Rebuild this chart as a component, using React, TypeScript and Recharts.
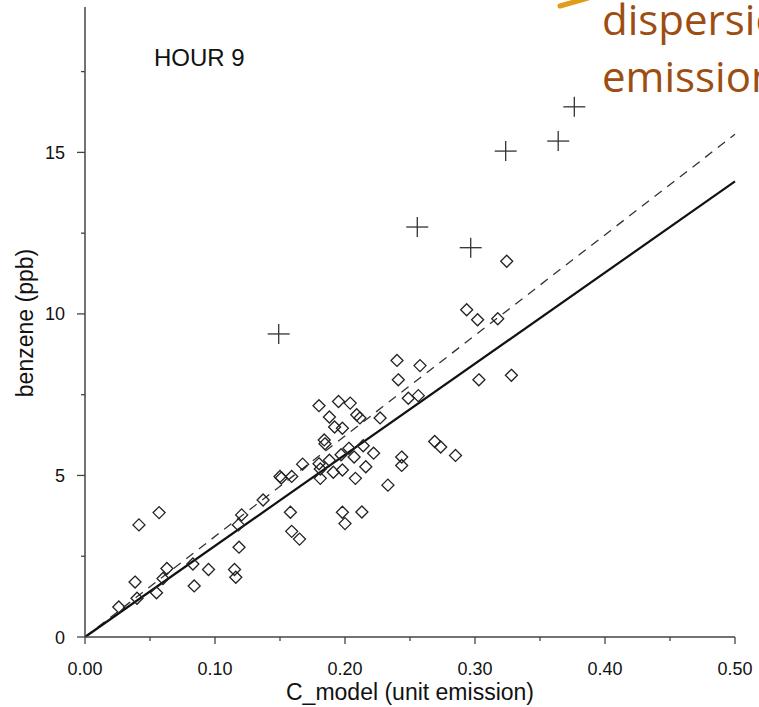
import { ReferenceLine, Scatter, ScatterChart, XAxis, YAxis } from "recharts";

// diamonds: modelled unit-emission concentration vs measured benzene
const modelConc = [
  0.026, 0.0415, 0.057, 0.0385, 0.04, 0.055, 0.06, 0.063, 0.083, 0.084, 0.095,
  0.115, 0.116, 0.1185, 0.118, 0.1205, 0.137, 0.15, 0.151, 0.159, 0.158, 0.159,
  0.165, 0.1674, 0.18, 0.181, 0.181, 0.191, 0.198, 0.208, 0.216, 0.18, 0.195,
  0.204, 0.209, 0.2115, 0.188, 0.192, 0.198, 0.227, 0.184, 0.1846, 0.203, 0.214,
  0.207, 0.222, 0.188, 0.197, 0.198, 0.2, 0.213, 0.233, 0.2436, 0.2436, 0.269,
  0.2736, 0.285, 0.24, 0.2577, 0.241, 0.303, 0.328, 0.2487, 0.2564, 0.2936,
  0.302, 0.3175, 0.3244,
];
const benzene = [
  0.93, 3.47, 3.85, 1.7, 1.2, 1.37, 1.81, 2.12, 2.26, 1.58, 2.09, 2.09, 1.85,
  2.78, 3.47, 3.78, 4.24, 4.97, 4.92, 4.97, 3.86, 3.27, 3.03, 5.35, 5.36, 5.2,
  4.91, 5.1, 5.17, 4.91, 5.27, 7.16, 7.29, 7.24, 6.88, 6.78, 6.81, 6.5, 6.46,
  6.78, 6.1, 5.98, 5.84, 5.92, 5.57, 5.69, 5.47, 5.64, 3.86, 3.51, 3.87, 4.7,
  5.57, 5.31, 6.05, 5.88, 5.62, 8.56, 8.4, 7.96, 7.96, 8.1, 7.39, 7.47, 10.13,
  9.82, 9.85, 11.63,
];

// crosses: outliers
const outlierConc = [0.149, 0.2556, 0.2967, 0.3236, 0.364, 0.3764];
const outlierBenzene = [9.38, 12.69, 12.05, 15.04, 15.35, 16.41];

// fit lines through origin
const fitEndX = 0.5;
const solidFitEnd = 14.1;
const dashedFitEnd = 15.56;

const xTicks = [0, 0.05, 0.1, 0.15, 0.2, 0.25, 0.3, 0.35, 0.4, 0.45, 0.5];
const yTicks = [0, 2.5, 5, 7.5, 10, 12.5, 15, 17.5];

const diamonds = modelConc.map((x, i) => ({ x, y: benzene[i] }));
const crosses = outlierConc.map((x, i) => ({ x, y: outlierBenzene[i] }));

const FONT = "'Liberation Sans', Arial, sans-serif";
const AXIS = "#444";

const Diamond = ({ cx, cy }: any) => (
  <polygon
    points={`${cx},${cy - 6} ${cx + 6},${cy} ${cx},${cy + 6} ${cx - 6},${cy}`}
    fill="none"
    stroke="#222"
    strokeWidth={1.3}
  />
);

const Cross = ({ cx, cy }: any) => (
  <g stroke="#333" strokeWidth={1.3}>
    <line x1={cx - 11} y1={cy} x2={cx + 11} y2={cy} />
    <line x1={cx} y1={cy - 10} x2={cx} y2={cy + 10} />
  </g>
);

const XTick = ({ x, y, payload }: any) => {
  const v = payload.value;
  const major = Math.abs(v * 10 - Math.round(v * 10)) < 1e-6;
  return (
    <g>
      <line x1={x} y1={y} x2={x} y2={y + (major ? 7 : 4)} stroke={AXIS} strokeWidth={1.3} />
      {major && (
        <text x={x} y={y + 38} textAnchor="middle" fontSize={18} fontFamily={FONT} fill="#111">
          {v.toFixed(2)}
        </text>
      )}
    </g>
  );
};

const YTick = ({ x, y, payload }: any) => {
  const v = payload.value;
  const major = v % 5 === 0;
  return (
    <g>
      <line x1={x} y1={y} x2={x - (major ? 8 : 4)} y2={y} stroke={AXIS} strokeWidth={1.3} />
      {major && (
        <text x={x - 20} y={y + 6.5} textAnchor="end" fontSize={18} fontFamily={FONT} fill="#111">
          {v}
        </text>
      )}
    </g>
  );
};

export default function App() {
  return (
    <div
      style={{
        position: "absolute",
        left: 0,
        top: 0,
        width: 759,
        height: 707,
        background: "#fff",
        overflow: "hidden",
      }}
    >
      <ScatterChart width={759} height={707} margin={{ top: 7, right: 24, bottom: 0, left: 0 }}>
        <XAxis
          type="number"
          dataKey="x"
          domain={[0, 0.5]}
          ticks={xTicks}
          interval={0}
          height={70}
          tickSize={0}
          tickMargin={0}
          tickLine={false}
          tick={<XTick />}
          axisLine={{ stroke: AXIS, strokeWidth: 1.5 }}
          allowDataOverflow
        />
        <YAxis
          type="number"
          dataKey="y"
          domain={[0, 19.5]}
          ticks={yTicks}
          interval={0}
          width={85}
          tickSize={0}
          tickMargin={0}
          tickLine={false}
          tick={<YTick />}
          axisLine={{ stroke: AXIS, strokeWidth: 1.5 }}
          allowDataOverflow
        />
        <ReferenceLine
          segment={[
            { x: 0, y: 0 },
            { x: fitEndX, y: dashedFitEnd },
          ]}
          stroke="#333"
          strokeWidth={1.3}
          strokeDasharray="9 7"
        />
        <ReferenceLine
          segment={[
            { x: 0, y: 0 },
            { x: fitEndX, y: solidFitEnd },
          ]}
          stroke="#111"
          strokeWidth={2.2}
        />
        <Scatter data={diamonds} shape={<Diamond />} isAnimationActive={false} />
        <Scatter data={crosses} shape={<Cross />} isAnimationActive={false} />
        <text x={154} y={66} fontSize={24} fontFamily={FONT} fill="#111">
          HOUR 9
        </text>
        <text x={410} y={700} textAnchor="middle" fontSize={23} fontFamily={FONT} fill="#111">
          C_model (unit emission)
        </text>
        <text
          x={33}
          y={323}
          textAnchor="middle"
          fontSize={23}
          fontFamily={FONT}
          fill="#111"
          transform="rotate(-90 33 323)"
        >
          benzene (ppb)
        </text>
        <line x1={560} y1={6} x2={588} y2={-2} stroke="#E39B1A" strokeWidth={5} strokeLinecap="round" />
        <text x={602} y={35} fontSize={42} fontFamily="'Open Sans', sans-serif" fill="#9E4D12">
          dispersion
        </text>
        <text x={602} y={92} fontSize={42} fontFamily="'Open Sans', sans-serif" fill="#9E4D12">
          emission
        </text>
      </ScatterChart>
    </div>
  );
}
